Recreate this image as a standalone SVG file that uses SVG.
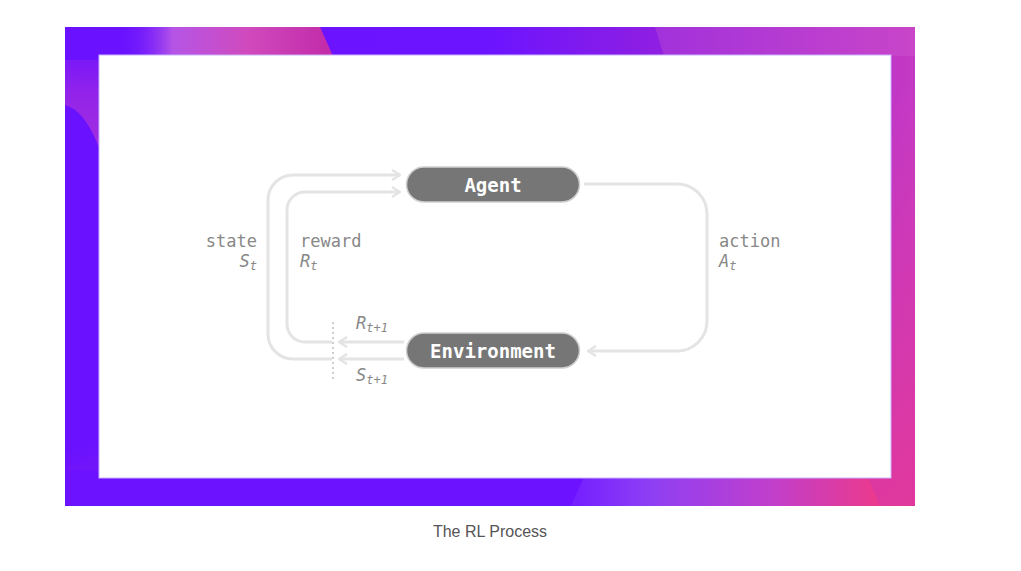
<svg xmlns="http://www.w3.org/2000/svg" width="1021" height="571" viewBox="0 0 1021 571">
  <style>
    .line { fill: none; stroke: #e4e4e4; stroke-width: 3; }
    .pill { fill: #767676; stroke: #cfcfcf; stroke-width: 1.5; }
    .pilltext { font-family: "DejaVu Sans Mono", monospace; font-weight: bold; font-size: 19px; fill: #ffffff; text-anchor: middle; }
    .lbl { font-family: "DejaVu Sans Mono", monospace; font-size: 17px; fill: #888888; }
    .math { font-family: "DejaVu Sans Mono", monospace; font-style: italic; font-size: 17px; fill: #888888; }
    .sub { font-size: 12px; }
    .caption { font-family: "Liberation Sans", Arial, sans-serif; font-size: 16px; fill: #555555; text-anchor: middle; }
  </style>
  <defs>
    <clipPath id="frameClip"><rect x="65" y="27" width="850" height="479"/></clipPath>
    <linearGradient id="bgH" x1="65" y1="0" x2="915" y2="0" gradientUnits="userSpaceOnUse">
      <stop offset="0" stop-color="#6a12ff"/>
      <stop offset="0.5" stop-color="#6c14ff"/>
      <stop offset="0.72" stop-color="#9320de"/>
      <stop offset="1" stop-color="#c53ac4"/>
    </linearGradient>
    <linearGradient id="bgPink" x1="760" y1="150" x2="915" y2="506" gradientUnits="userSpaceOnUse">
      <stop offset="0" stop-color="#e2389a" stop-opacity="0"/>
      <stop offset="1" stop-color="#e2389a" stop-opacity="0.95"/>
    </linearGradient>
    <linearGradient id="topBlob" x1="120" y1="0" x2="332" y2="0" gradientUnits="userSpaceOnUse">
      <stop offset="0" stop-color="#6c14ff" stop-opacity="0"/>
      <stop offset="0.25" stop-color="#b555e6"/>
      <stop offset="0.6" stop-color="#d04abd"/>
      <stop offset="1" stop-color="#c22aa8"/>
    </linearGradient>
    <linearGradient id="botBlob" x1="575" y1="0" x2="875" y2="0" gradientUnits="userSpaceOnUse">
      <stop offset="0" stop-color="#7420ff"/>
      <stop offset="0.25" stop-color="#8e3ff4"/>
      <stop offset="0.65" stop-color="#c03fcc"/>
      <stop offset="1" stop-color="#ea3a8e"/>
    </linearGradient>
    <linearGradient id="leftBlob" x1="0" y1="27" x2="0" y2="160" gradientUnits="userSpaceOnUse">
      <stop offset="0" stop-color="#8a1ef0" stop-opacity="0"/>
      <stop offset="0.5" stop-color="#9a26e6"/>
      <stop offset="1" stop-color="#b036d6"/>
    </linearGradient>
    <marker id="arrow" viewBox="0 0 10 12" refX="9" refY="6" markerWidth="10" markerHeight="12" markerUnits="userSpaceOnUse" orient="auto">
      <path d="M1,1 L9,6 L1,11" fill="none" stroke="#e4e4e4" stroke-width="2.5"/>
    </marker>
  </defs>

  <rect width="1021" height="571" fill="#ffffff"/>

  <g id="frame" clip-path="url(#frameClip)">
    <rect x="65" y="27" width="850" height="479" fill="url(#bgH)"/>
    <rect x="65" y="27" width="850" height="479" fill="url(#bgPink)"/>
    <rect x="65" y="470" width="520" height="36" fill="#6c12ff"/>
    <path d="M120,27 L320,27 L333,56 L120,56 Z" fill="url(#topBlob)"/>
    <path d="M655,27 L915,27 L915,56 L664,56 Z" fill="#d060d0" opacity="0.3"/>
    <path d="M65,60 L100,60 L100,150 Q85,110 65,105 Z" fill="url(#leftBlob)" opacity="0.85"/>
    <path d="M584,477 L868,477 L880,506 L571,506 Z" fill="url(#botBlob)"/>
  </g>

  <rect x="99" y="55" width="792" height="423" fill="#ffffff" stroke="#c9b2ff" stroke-width="1"/>

  <g id="connectors">
    <path class="line" d="M404,359 H339" marker-end="url(#arrow)"/>
    <path class="line" d="M332,359 H293 A25,25 0 0 1 268,334 V200 A25,25 0 0 1 293,175 H400" marker-end="url(#arrow)"/>
    <path class="line" d="M404,342 H339" marker-end="url(#arrow)"/>
    <path class="line" d="M332,342 H305 A18,18 0 0 1 287,324 V210 A18,18 0 0 1 305,192 H400" marker-end="url(#arrow)"/>
    <path class="line" d="M584,184 H677 A30,30 0 0 1 707,214 V321 A30,30 0 0 1 677,351 H588" marker-end="url(#arrow)"/>
    <line x1="333" y1="322" x2="333" y2="379" stroke="#cfcfcf" stroke-width="2" stroke-dasharray="2,3"/>
  </g>

  <g id="agent">
    <rect class="pill" x="406.5" y="167" width="173" height="35" rx="17.5"/>
    <text class="pilltext" x="493" y="191.5">Agent</text>
  </g>

  <g id="environment">
    <rect class="pill" x="406.5" y="333" width="173" height="35" rx="17.5"/>
    <text class="pilltext" x="493" y="357.5">Environment</text>
  </g>

  <g id="labels">
    <text class="lbl" x="257" y="247" text-anchor="end">state</text>
    <text class="math" x="257" y="267" text-anchor="end">S<tspan class="sub" dy="3">t</tspan></text>
    <text class="lbl" x="300" y="247">reward</text>
    <text class="math" x="300" y="267">R<tspan class="sub" dy="3">t</tspan></text>
    <text class="lbl" x="719" y="247">action</text>
    <text class="math" x="719" y="267">A<tspan class="sub" dy="3">t</tspan></text>
    <text class="math" x="356" y="329">R<tspan class="sub" dy="3">t+1</tspan></text>
    <text class="math" x="356" y="381">S<tspan class="sub" dy="3">t+1</tspan></text>
  </g>

  <text class="caption" x="490" y="537">The RL Process</text>
</svg>
